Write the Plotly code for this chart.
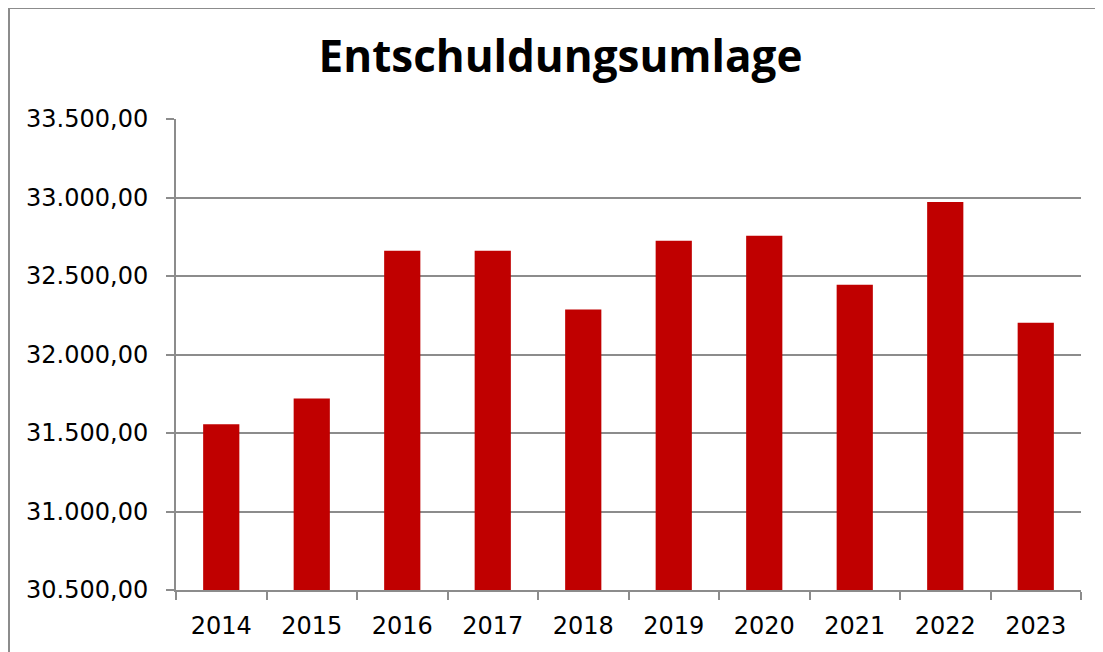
import plotly.graph_objects as go

years = ["2014", "2015", "2016", "2017", "2018", "2019", "2020", "2021", "2022", "2023"]
values = [31555, 31720, 32661, 32661, 32286, 32725, 32756, 32445, 32972, 32203]

fig = go.Figure(go.Bar(x=years, y=values, marker_color="#C00000", marker_line_width=0))

grid = "#8c8c8c"
W, H = 1095, 644
L, R, T, B = 168, 22, 111, 62
fig.update_layout(
    width=W, height=H,
    paper_bgcolor="white", plot_bgcolor="white",
    margin=dict(l=L, r=R, t=T, b=B),
    separators=",.",
    bargap=0.6,
    showlegend=False,
    title=dict(text="<b>Entschuldungsumlage</b>", xref="container", yref="container",
               x=552.5 / W, xanchor="center", y=1 - 49 / H, yanchor="middle",
               font=dict(family="Open Sans", size=44, color="black")),
    font=dict(family="DejaVu Sans", size=24, color="black"),
)
fig.update_yaxes(range=[30500, 33500], dtick=500, tick0=30500, tickformat=",.2f",
                 showgrid=True, gridcolor=grid, gridwidth=1.6,
                 showline=True, linecolor=grid, linewidth=2,
                 ticks="outside", ticklen=8, tickcolor=grid, tickwidth=2,
                 ticklabelstandoff=13, zeroline=False)
fig.update_xaxes(type="category", tickson="boundaries", ticks="outside", ticklen=8,
                 tickcolor=grid, tickwidth=2, showline=True, linecolor=grid, linewidth=2,
                 showgrid=False, ticklabelstandoff=13)
pw, ph = W - L - R, H - T - B
fig.add_shape(type="rect", xref="paper", yref="paper", x0=-(L - 1) / pw, x1=1.2, y0=-0.4,
              y1=1 + (T - 0) / ph,
              line=dict(color="#8c8c8c", width=2), fillcolor="rgba(0,0,0,0)", layer="below")
fig.write_html("out.html")
